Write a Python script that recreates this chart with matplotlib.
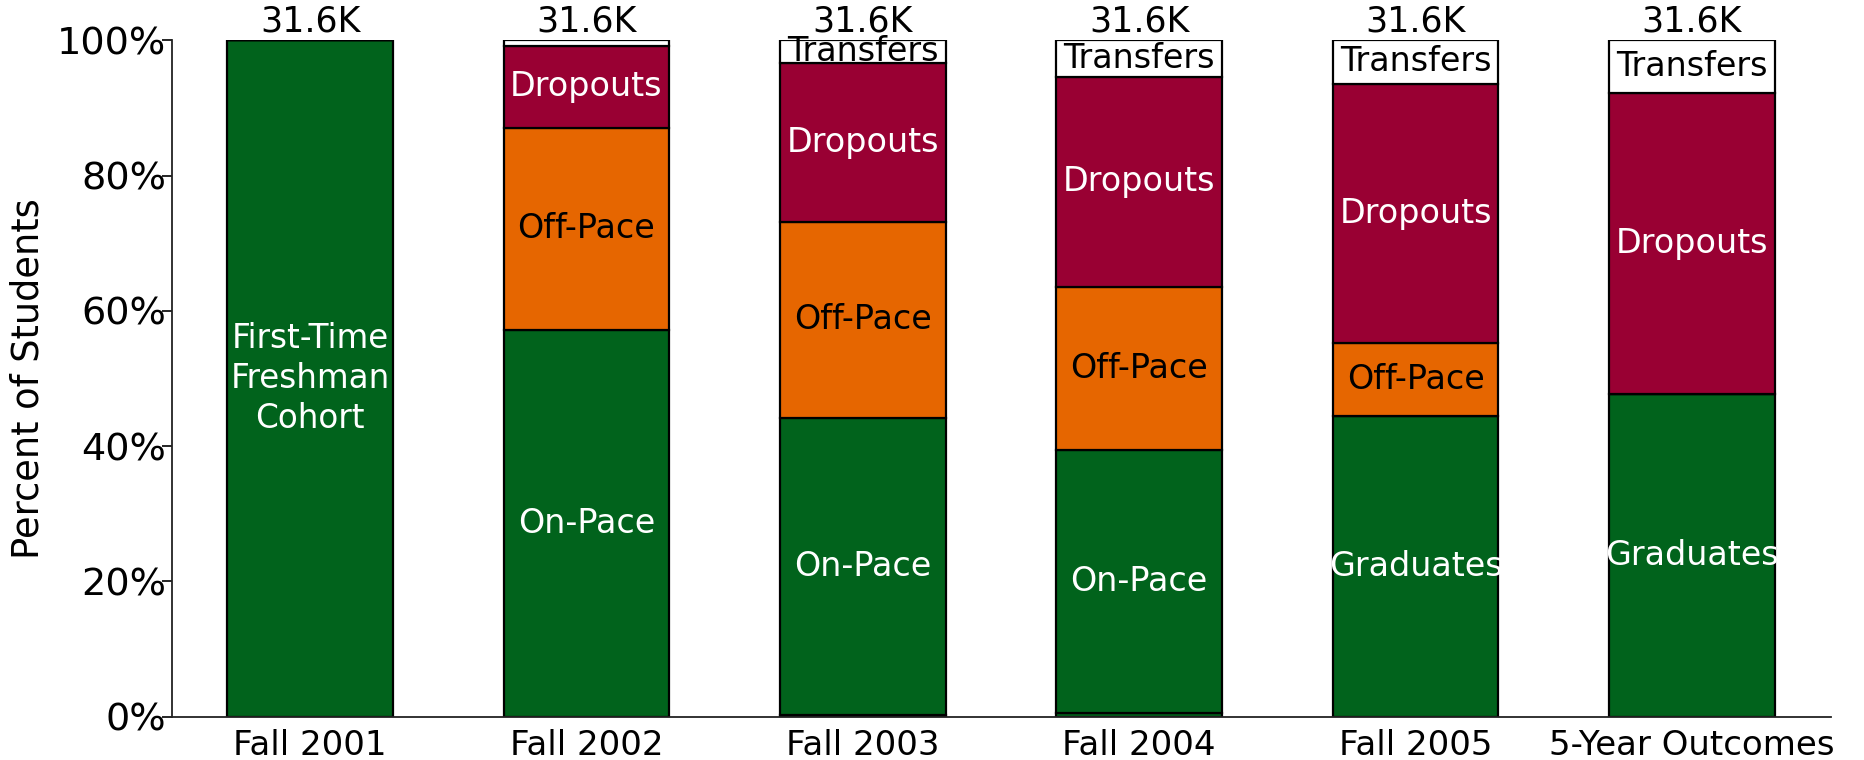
import matplotlib
matplotlib.use("Agg")
import matplotlib.pyplot as plt
import numpy as np

categories = ["Fall 2001", "Fall 2002", "Fall 2003", "Fall 2004", "Fall 2005", "5-Year Outcomes"]
totals = ["31.6K"] * 6

# percent of students in each segment (stack order bottom->top)
cohort    = [100.0, 0, 0, 0, 0, 0]
graduates = [0, 0, 0.3, 0.6, 44.5, 47.7]
on_pace   = [0, 57.2, 43.9, 38.8, 0, 0]
off_pace  = [0, 29.9, 29.0, 24.1, 10.7, 0]
dropouts  = [0, 12.1, 23.4, 31.1, 38.4, 44.5]
transfers = [0, 0.8, 3.4, 5.4, 6.4, 7.8]

segments = [
    ("cohort", cohort, "#01631C", "First-Time\nFreshman\nCohort", "white"),
    ("graduates", graduates, "#01631C", "Graduates", "white"),
    ("on_pace", on_pace, "#01631C", "On-Pace", "white"),
    ("off_pace", off_pace, "#E66600", "Off-Pace", "black"),
    ("dropouts", dropouts, "#990033", "Dropouts", "white"),
    ("transfers", transfers, "#FFFFFF", "Transfers", "black"),
]

plt.rcParams['font.family'] = ['DejaVu Sans']
fig = plt.figure(figsize=(18.65, 7.6), dpi=100)
ax = fig.add_axes([0.0922, 0.057, 0.8898, 0.890])

x = np.arange(len(categories))
width = 0.60
bottom = np.zeros(len(categories))
for name, vals, color, label, tcolor in segments:
    vals = np.array(vals, dtype=float)
    bars = ax.bar(x, vals, width, bottom=bottom, color=color, edgecolor="black", linewidth=1.6, zorder=2)
    for i, (b, v) in enumerate(zip(bars, vals)):
        if v < 2.5:
            continue
        t = ax.text(x[i], bottom[i] + v / 2, label, ha="center", va="center",
                    color=tcolor, fontsize=24 if name != "cohort" else 23.5,
                    linespacing=1.28, zorder=3)
        if name == "transfers":
            t.set_clip_path(b)
    bottom += vals

for i, lab in enumerate(totals):
    ax.annotate(lab, (x[i], bottom[i]), xytext=(0, 1), textcoords="offset points",
                ha="center", va="bottom", fontsize=25, color="black")

ax.set_xlim(-0.5, 5.505)
ax.set_ylim(0, 100)
ax.set_yticks([0, 20, 40, 60, 80, 100])
ax.set_yticklabels(["0%", "20%", "40%", "60%", "80%", "100%"])
ax.set_xticks(x)
ax.set_xticklabels(categories)
ax.tick_params(axis="y", labelsize=27.5, length=7, width=1.2, pad=-3)
ax.tick_params(axis="x", labelsize=24.5, length=0, pad=9)
ax.set_ylabel("Percent of Students", fontsize=26.5, labelpad=8)
for s in ["top", "right"]:
    ax.spines[s].set_visible(False)
ax.spines["left"].set_linewidth(1.3)
ax.spines["bottom"].set_linewidth(1.3)
ax.spines["left"].set_color("#222222")
ax.spines["bottom"].set_color("#222222")

fig.savefig("out.png", dpi=100)
